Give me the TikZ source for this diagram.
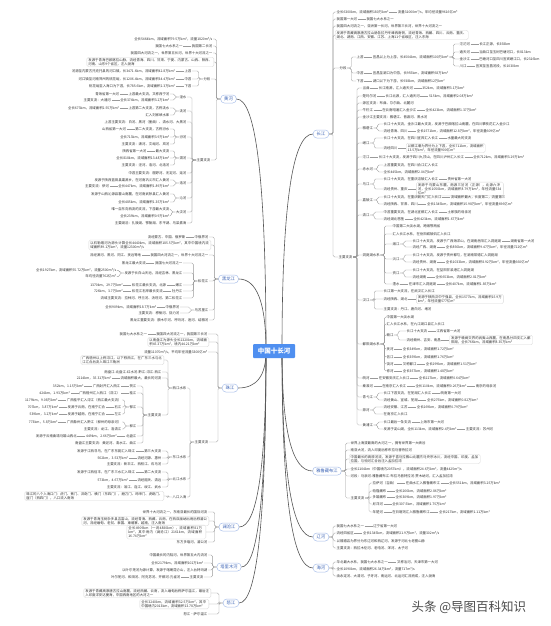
\documentclass[tikz,border=0pt]{standalone}
\usepackage{fontspec}
\setmainfont{Noto Sans CJK SC}
\XeTeXlinebreaklocale "zh"
\XeTeXlinebreakskip = 0pt plus 1pt
\usetikzlibrary{positioning,calc}
\definecolor{txt}{HTML}{333333}
\definecolor{boxc}{HTML}{DADADA}
\definecolor{rvb}{HTML}{A9BFEA}
\definecolor{rvt}{HTML}{3A62B5}
\definecolor{ctf}{HTML}{4F8FF0}
\definecolor{lnc}{HTML}{9A9A9A}
\definecolor{mcc}{HTML}{555555}
\newcommand\nL[4]{\node[lf,anchor=east] (#1) at (#2,#3) {#4};}
\newcommand\nR[4]{\node[lf,anchor=west] (#1) at (#2,#3) {#4};}
\newcommand\chL[3]{\node[lf,left=8pt of #1] (#2) {#3};\draw[cn] (#1.west) -- (#2.east);}
\newcommand\chR[3]{\node[lf,right=8pt of #1] (#2) {#3};\draw[cn] (#1.east) -- (#2.west);}
\newcommand\jL[2]{\draw[cn] (#1.west) -- ++(-4,0) |- (#2.east);}
\newcommand\jR[2]{\draw[cn] (#1.east) -- ++(4,0) |- (#2.west);}
\begin{document}
\begin{tikzpicture}[x=1pt,y=-1pt,
 lf/.style={font=\fontsize{3.4}{4.3}\selectfont, inner sep=0.5pt, text=txt},
 bx/.style={lf, draw=boxc, line width=0.3pt, rounded corners=1.5pt, align=left, inner xsep=1.5pt, inner ysep=1pt},
 rv/.style={draw=rvb, line width=0.5pt, rounded corners=3.6pt, fill=white, text=rvt, font=\fontsize{4.3}{5}\selectfont, minimum height=8pt, inner xsep=3.5pt, inner ysep=0pt},
 ct/.style={fill=ctf, text=white, font=\fontsize{6.5}{7}\selectfont\bfseries, minimum width=42pt, minimum height=14pt, rounded corners=1pt},
 cn/.style={draw=lnc, line width=0.35pt, rounded corners=1.5pt},
 mc/.style={draw=mcc, line width=0.6pt}]
\useasboundingbox (0,0) rectangle (550,626);
\fill[white] (0,0) rectangle (550,626);

% ===== 黄河 =====
\node[rv] (hh) at (228.5,99) {黄河};
\nL{h1}{213}{39}{全长5464km，流域面积79.5万km²，流量1820m³/s}
\nL{h2}{213}{46}{我国第二长河} \chL{h2}{h2a}{我国七大水系之一}
\nL{h3}{213}{53}{我国四大河流之一，世界第五长河，世界十大河流之一}
\node[bx,anchor=east,text width=124pt] (h4) at (214,62) {发源于青海巴颜喀拉山脉，流经青海、四川、甘肃、宁夏、内蒙古、山西、陕西、河南、山东9个省区，注入渤海};
\nL{hfd}{211}{79}{分段}
\nL{hs}{192}{71}{上游} \chL{hs}{hsa}{河源至内蒙古托克托县的河口镇，长3471.6km，流域面积42.8万km²}
\nL{hz}{192}{79}{中游} \chL{hz}{hza}{河口镇至河南郑州的桃花峪，长1206.4km，流域面积34.4万km²}
\nL{hx}{192}{86}{下游} \chL{hx}{hxa}{桃花峪至入海口为下游，长785.6km，流域面积2.3万km²}
\nL{hzl}{211}{160}{主要支流}
\nL{hw}{187}{97}{湟水}
 \nL{hw1}{170}{94}{上游最大支流，又称西宁河} \chL{hw1}{hw1a}{青海省第一大河}
 \nL{hw2}{170}{100}{全长374km，流域面积3.2万km²} \chL{hw2}{hw2a}{主要支流：大通河}
\nL{ht}{187}{111}{洮河}
 \nL{ht1}{170}{108}{上游第二大支流，古称洮水} \chL{ht1}{ht1a}{全长673km，流域面积2.55万km²}
 \nL{ht2}{170}{115}{汇入刘家峡水库}
\nL{hq}{187}{122}{上游主要支流：白河、黑河（墨曲）、清水河、大黑河}
\nL{hf}{187}{137}{汾河}
 \nL{hf1}{170}{129}{第二大支流，古称汾水} \chL{hf1}{hf1a}{山西省第一大河}
 \nL{hf2}{170}{137}{全长713km，流域面积3.9万km²}
 \nL{hf3}{170}{144}{主要支流：潇河、文峪河、岚河}
\nL{hwe}{187}{158}{渭河}
 \nL{hwe1}{170}{151}{最大支流} \chL{hwe1}{hwe1a}{陕西省第一大河}
 \nL{hwe2}{170}{158}{全长818km，流域面积13.48万km²}
 \nL{hwe3}{170}{165}{主要支流：泾河、洛河、北洛河}
\nL{hzy}{187}{173}{中游主要支流：窟野河、无定河、延河}
\nL{hl}{187}{183}{洛河}
 \nL{hl1}{170}{180}{发源于陕西蓝田县灞源乡，在河南巩义市汇入黄河}
 \nL{hl2}{170}{186}{全长447km，流域面积1.89万km²} \chL{hl2}{hl2a}{主要支流：伊河}
\nL{hqin}{187}{198}{沁河}
 \nL{hqin1}{170}{194}{发源于山西沁源县霍山南麓，在河南武陟县汇入黄河}
 \nL{hqin2}{170}{202}{全长485km，流域面积1.35万km²}
\nL{hdw}{187}{212}{大汶河}
 \nL{hdw1}{170}{209}{唯一自东向西流的支流，下游最大支流}
 \nL{hdw2}{170}{216}{全长239km，流域面积0.9万km²}
\nL{hhu}{187}{223}{主要湖泊：扎陵湖、鄂陵湖、东平湖、乌梁素海}
\foreach \c in {h1,h2,h3,h4,hfd,hzl} {\jL{hh}{\c}}
\foreach \c in {hs,hz,hx} {\jL{hfd}{\c}}
\foreach \c in {hw,ht,hq,hf,hwe,hzy,hl,hqin,hdw,hhu} {\jL{hzl}{\c}}
\jL{hw}{hw1}\jL{hw}{hw2}\jL{ht}{ht1}\jL{ht}{ht2}
\jL{hf}{hf1}\jL{hf}{hf2}\jL{hf}{hf3}
\jL{hwe}{hwe1}\jL{hwe}{hwe2}\jL{hwe}{hwe3}
\jL{hl}{hl1}\jL{hl}{hl2}\jL{hqin}{hqin1}\jL{hqin}{hqin2}\jL{hdw}{hdw1}\jL{hdw}{hdw2}

% ===== 黑龙江 =====
\node[rv] (kk) at (228.5,279) {黑龙江};
\nL{k1}{209}{237}{中俄界河} \chL{k1}{k1a}{流经蒙古、中国、俄罗斯}
\node[bx,anchor=east,text width=119pt] (k2) at (211,245) {以石勒喀河为源头计算全长4440km，流域面积185.5万km²，其中中国境内流域面积89.1万km²，流量12300m³/s};
\nL{k3}{209}{255}{我国四大河流之一，世界十大河流之一} \chL{k3}{k3a}{流经漠河、黑河、同江、抚远等地}
\nL{ks}{209}{281}{松花江}
 \nL{ks1}{183}{263}{我国七大河流之一} \chL{ks1}{ks1a}{黑龙江最大支流}
 \nL{ks2}{183}{273}{发源于长白山天池，流经吉林、黑龙江}
 \node[lf,anchor=east] (ks2a) at ($(ks2.west)+(-7,-2.6)$) {全长1927km，流域面积55.72万km²，流量2500m³/s};
 \node[lf,anchor=east] (ks2b) at ($(ks2.west)+(-7,3.6)$) {年均径流量762亿m³};
 \jL{ks2}{ks2a}\jL{ks2}{ks2b}
 \nL{ks3}{183}{285}{嫩江} \chL{ks3}{ks3a}{松花江最长支流，北源} \chL{ks3a}{ks3b}{1370km，29.7万km²}
 \nL{ks4}{183}{291}{牡丹江} \chL{ks4}{ks4a}{松花江右岸最长支流} \chL{ks4a}{ks4b}{726km，3.7万km²}
 \nL{ks5}{183}{298}{流域主要支流：拉林河、呼兰河、汤旺河、第二松花江}
\nL{kw}{209}{310}{乌苏里江}
 \nL{kw1}{180}{307}{中俄界河} \chL{kw1}{kw1a}{全长909km，流域面积18.7万km²}
 \nL{kw2}{180}{313}{主要支流：穆棱河、挠力河}
\nL{k5}{209}{320}{黑龙江重要支流：额木尔河、呼玛河、逊河、结雅河}
\foreach \c in {k1,k2,k3,ks,kw,k5} {\jL{kk}{\c}}
\foreach \c in {ks1,ks2,ks3,ks4,ks5} {\jL{ks}{\c}}
\jL{kw}{kw1}\jL{kw}{kw2}

% ===== 珠江 =====
\node[rv] (zz) at (230,388) {珠江};
\nL{z1}{208}{334}{我国四大河流之一，我国第三长河} \chL{z1}{z1a}{我国七大水系之一}
\node[bx,anchor=east,text width=58pt] (z2) at (209,342) {以南盘江为源头全长2320km，流域面积45.37万km²，境内44.21万km²};
\nL{z3}{208}{352}{流量11070m³/s，平均年径流量3300亿m³}
\nL{zzl}{209}{442}{主要支流}
\nL{zx}{187}{388}{西江水系}
 \node[bx,anchor=east,text width=80pt] (zx1) at (164,360) {广西梧州以上称浔江，以下称西江，在广东三水与北江汇合后流入珠江三角洲};
 \nL{zx2}{162}{372}{南盘江-北盘江-红水河-黔江-浔江-西江}
 \nL{zx3}{162}{378}{流域面积最大，最长的河流} \chL{zx3}{zx3a}{2214km，35.31万km²}
 \nL{zxz}{162}{415}{主要支流}
 \nL{g1}{137}{386}{贺江} \chL{g1}{g1a}{广西封开汇入西江} \chL{g1a}{g1b}{352km，1.15万km²}
 \nL{g2}{137}{393}{桂江} \chL{g2}{g2a}{广西梧州汇入西江（浔江）} \chL{g2a}{g2b}{424km，1.93万km²}
 \nL{g3}{137}{407}{郁江}
 \nL{g31}{122}{400}{广西桂平汇入浔江（西江最大支流）} \chL{g31}{g31a}{1179km，9.08万km²}
 \nL{g32}{122}{407}{右江} \chL{g32}{g32a}{发源于云南，在南宁汇合} \chL{g32a}{g32b}{707km，3.87万km²}
 \nL{g33}{122}{414}{左江} \chL{g33}{g33a}{发源于越南，在南宁汇合} \chL{g33a}{g33b}{539km，3.2万km²}
 \nL{g4}{137}{426}{柳江}
 \nL{g41}{122}{422}{广西象州汇入黔江（柳州的母亲河）} \chL{g41}{g41a}{773km，5.8万km²}
 \nL{g42}{122}{429}{主要支流：龙江、洛清江}
 \nL{g5}{137}{436}{北盘江} \chL{g5}{g5a}{449km，2.66万km²} \chL{g5a}{g5b}{发源于云南曲靖马雄山西北}
 \nL{g6}{137}{443}{南盘江主要支流：黄泥河、清水江、曲江}
\nL{zd}{187}{457}{东江水系}
 \nL{zd1}{162}{451}{第三大支流} \chL{zd1}{zd1a}{发源于江西寻乌，在广东东莞汇入珠江}
 \nL{zd2}{162}{458}{流经河源、惠州} \chL{zd2}{zd2a}{562km，3.53万km²}
 \nL{zd3}{162}{464}{主要支流：新丰江、西枝江、石马河}
\nL{zb}{187}{479}{北江水系}
 \nL{zb1}{162}{472}{第二大支流} \chL{zb1}{zb1a}{发源于江西信丰，在广东三水汇入珠江}
 \nL{zb2}{162}{480}{流经韶关、清远} \chL{zb2}{zb2a}{573km，4.67万km²}
 \nL{zb3}{162}{487}{主要支流：滃江、连江、绥江、武水}
\nL{zba}{187}{497}{八口入海}
 \node[bx,anchor=east,text width=136pt] (zba1) at (164,496) {珠江的八个入海口门：虎门、蕉门、洪奇门、横门（东四门），磨刀门、鸡啼门、虎跳门、崖门（西四门），八口流入南海};
\foreach \c in {z1,z2,z3,zzl} {\jL{zz}{\c}}
\foreach \c in {zx,zd,zb,zba} {\jL{zzl}{\c}}
\foreach \c in {zx1,zx2,zx3,zxz} {\jL{zx}{\c}}
\foreach \c in {g1,g2,g3,g4,g5,g6} {\jL{zxz}{\c}}
\foreach \c in {g31,g32,g33} {\jL{g3}{\c}}
\jL{g4}{g41}\jL{g4}{g42}
\foreach \c in {zd1,zd2,zd3} {\jL{zd}{\c}}
\foreach \c in {zb1,zb2,zb3} {\jL{zb}{\c}}
\jL{zba}{zba1}

% ===== 澜沧江 =====
\node[rv] (ll) at (229,527) {澜沧江};
\nL{l1}{208}{512}{世界十大河流之一，东南亚最长的国际河流}
\node[bx,anchor=east,text width=124pt] (l2) at (209,521) {发源于青海玉树杂多县吉富山，流经青海、西藏、云南，在西双版纳出境后称湄公河，流经缅甸、老挝、泰国、柬埔寨、越南，注入南海};
\node[bx,anchor=east,text width=76pt] (l3) at (206,532) {全长4909km（一说4880km），流域面积81万km²，其中境内（澜沧江）2161km，流域面积16.74万km²};
\nL{l4}{208}{542}{东方多瑙河，湄公河}
\foreach \c in {l1,l2,l3,l4} {\jL{ll}{\c}}

% ===== 塔里木河 =====
\node[rv] (tt) at (229,567) {塔里木河};
\nL{t1}{208}{555}{中国最长的内陆河，世界第五大内流河}
\nL{t2}{204}{563}{全长2179km，流域面积102万km²}
\nL{t3}{208}{570}{以叶尔羌河为源计算，发源于喀喇昆仑山，注入台特玛湖}
\nL{t4}{204}{577}{主要支流} \chL{t4}{t4a}{叶尔羌河、和田河、阿克苏河、开都河-孔雀河}
\foreach \c in {t1,t2,t3,t4} {\jL{tt}{\c}}

% ===== 怒江 =====
\node[rv] (nn) at (231,603) {怒江};
\node[bx,anchor=east,text width=124pt] (n1) at (211,593) {发源于青藏高原唐古拉山南麓，流经西藏、云南，流入缅甸后称萨尔温江，最后注入印度洋安达曼海，中国西南地区的大河之一};
\node[bx,anchor=east,text width=66pt] (n2) at (209,604) {全长3240km，流域面积32.5万km²，其中中国境内2013km，流域面积13.78万km²};
\nL{n3}{208}{614}{怒江·萨尔温江}
\foreach \c in {n1,n2,n3} {\jL{nn}{\c}}

% ===== 长江 =====
\node[rv] (cj) at (321,134) {长江};
\nR{c1}{336}{12}{全长6300km，流域面积180万km²} \chR{c1}{c1a}{流量31060m³/s，年均径流量9616亿m³}
\nR{c2}{336}{19}{我国第一大河} \chR{c2}{c2a}{我国七大水系之一}
\nR{c3}{336}{26}{我国四大河流之一，亚洲第一长河，世界第三长河，世界十大河流之一}
\node[bx,anchor=west,text width=130pt] (c4) at (335,35) {发源于青藏高原唐古拉山脉各拉丹冬峰西南侧，流经青海、西藏、四川、云南、重庆、湖北、湖南、江西、安徽、江苏、上海11个省级区，注入东海};
\nR{cfd}{339}{68}{分段}
 \nR{cs}{356}{57}{上游} \chR{cs}{csa}{宜昌以上为上游，长4504km，流域面积100万km²}
 \nR{cs1}{459}{44}{沱沱河} \chR{cs1}{cs1a}{长江正源，长358km}
 \nR{cs2}{459}{52}{通天河} \chR{cs2}{cs2a}{当曲口至玉树巴塘河口，长813km}
 \nR{cs3}{459}{59}{金沙江} \chR{cs3}{cs3a}{巴塘河口至四川宜宾岷江口，长2316km}
 \nR{cs4}{459}{66}{川江} \chR{cs4}{cs4a}{宜宾至宜昌河段，长1030km}
 \nR{cz}{356}{73}{中游} \chR{cz}{cza}{宜昌至湖口为中游，长955km，流域面积68万km²}
 \nR{cx}{356}{81}{下游} \chR{cx}{cxa}{湖口以下为下游，长938km，流域面积12万km²}
\nR{czl}{338}{257}{主要支流}
 \nR{d1}{362}{88}{当曲} \chR{d1}{d1a}{长江南源，汇入通天河} \chR{d1a}{d1b}{352km，流域面积3.1万km²}
 \nR{d2}{362}{96}{楚玛尔河} \chR{d2}{d2a}{长江北源，汇入通天河} \chR{d2a}{d2b}{515km，流域面积2.08万km²}
 \nR{d3}{362}{103}{源区支流：布曲、尕尔曲、北麓河}
 \nR{d4}{362}{110}{牛栏江} \chR{d4}{d4a}{在云南昭通汇入金沙江} \chR{d4a}{d4b}{全长423km，流域面积1.37万km²}
 \nR{d5}{362}{117}{金沙江主要支流：雅砻江、普渡河、黑水河}
 \nR{d6}{362}{128}{雅砻江}
  \nR{d61}{383}{124}{长江十大支流，金沙江最大支流，发源于巴颜喀拉山南麓，在四川攀枝花汇入金沙江}
  \nR{d62}{383}{131}{流经青海、四川} \chR{d62}{d62a}{全长1571km，流域面积12.8万km²，年径流量609亿m³}
 \nR{d7}{362}{143}{岷江}
  \nR{d71}{383}{138}{长江十大支流，在四川宜宾汇入长江} \chR{d71}{d71a}{水量最大的支流}
  \nR{d72}{383}{148}{流经四川}
  \node[bx,right=8pt of d72,text width=76pt] (d72a) {以都江堰为界分为上下游，全长711km，流域面积13.5万km²，年径流量900亿m³}; \draw[cn] (d72.east) -- (d72a.west);
 \nR{d8}{362}{157}{沱江} \chR{d8}{d8a}{长江十大支流，发源于四川九顶山，在四川泸州汇入长江} \chR{d8a}{d8b}{全长712km，流域面积3.29万km²}
 \nR{d9}{362}{169}{赤水河}
  \nR{d91}{383}{165}{上游重要支流，在四川合江汇入长江}
  \nR{d92}{383}{172}{全长445km，流域面积2.04万km²}
 \nR{d10}{362}{184}{乌江}
  \nR{d101}{383}{179}{长江十大支流，在重庆涪陵汇入长江} \chR{d101}{d101a}{贵州省第一大河}
  \nR{d102}{383}{189}{流经贵州、重庆}
  \node[bx,right=8pt of d102,text width=84pt] (d102a) {发源于乌蒙山东麓，南源三岔河（正源），北源六冲河，全长1050km，流域面积8.79万km²，年径流量534亿m³}; \draw[cn] (d102.east) -- (d102a.west);
 \nR{d11}{362}{200}{嘉陵江}
  \nR{d111}{383}{197}{长江十大支流，在重庆朝天门汇入长江} \chR{d111}{d111a}{流域面积最大，长度第二，流量第三}
  \nR{d112}{383}{204}{流经陕西、甘肃、四川} \chR{d112}{d112a}{全长1345km，流域面积15.98万km²，年径流量696亿m³}
 \nR{d12}{362}{215}{清江}
  \nR{d121}{383}{212}{中游重要支流，在湖北宜都汇入长江} \chR{d121}{d121a}{土家族的母亲河}
  \nR{d122}{383}{219}{流经湖北恩施} \chR{d122}{d122a}{全长423km，流域面积1.67万km²}
 \nR{d13}{362}{255}{洞庭湖水系}
  \nR{e1}{392}{226}{中国第二大淡水湖，跨湘鄂两省}
  \nR{e2}{392}{234}{汇入长江水系，在岳阳城陵矶汇入长江}
  \nR{e3}{392}{244}{湘江}
   \nR{e31}{412}{241}{长江十大支流，发源于广西海洋山，在湖南岳阳汇入洞庭湖} \chR{e31}{e31a}{湖南省第一大河}
   \nR{e32}{412}{247}{流经广西、湖南} \chR{e32}{e32a}{全长856km，流域面积9.47万km²，年径流量722亿m³}
  \nR{e4}{392}{259}{沅江}
   \nR{e41}{412}{255}{长江十大支流，发源于贵州都匀，在湖南常德汇入洞庭湖}
   \nR{e42}{412}{262}{流经贵州、湖南} \chR{e42}{e42a}{全长1033km，流域面积8.92万km²，年径流量660亿m³}
  \nR{e5}{392}{273}{资江}
   \nR{e51}{412}{270}{长江十大支流，在益阳甘溪港汇入洞庭湖}
   \nR{e52}{412}{277}{流经湖南} \chR{e52}{e52a}{全长653km，流域面积2.81万km²}
  \nR{e6}{392}{284}{澧水} \chR{e6}{e6a}{在津市汇入洞庭湖} \chR{e6a}{e6b}{全长407km，流域面积1.85万km²}
 \nR{d14}{362}{300}{汉江}
  \nR{d141}{383}{291}{长江第一大支流，在武汉汇入长江}
  \nR{d142}{383}{299}{流经陕西、湖北}
  \node[bx,right=8pt of d142,text width=84pt] (d142a) {发源于陕西汉中宁强县，全长1577km，流域面积15.9万km²，年径流量577亿m³}; \draw[cn] (d142.east) -- (d142a.west);
  \nR{d143}{383}{309}{主要支流：丹江、唐白河、堵河}
 \nR{d15}{362}{344}{鄱阳湖水系}
  \nR{f1}{386}{317}{中国第一大淡水湖}
  \nR{f2}{386}{324}{汇入长江水系，在九江湖口县汇入长江}
  \nR{f3}{386}{335}{赣江}
   \nR{f31}{406}{331}{长江十大支流} \chR{f31}{f31a}{江西省第一大河}
   \nR{f32}{406}{340}{流经赣州、吉安、南昌}
   \node[bx,right=8pt of f32,text width=80pt] (f32a) {发源于赣闽交界的武夷山西麓，在南昌分四支汇入鄱阳湖，全长766km，流域面积8.35万km²}; \draw[cn] (f32.east) -- (f32a.west);
  \nR{f4}{386}{349}{抚河} \chR{f4}{f4a}{全长349km，流域面积1.72万km²}
  \nR{f5}{386}{357}{信江} \chR{f5}{f5a}{全长359km，流域面积1.76万km²}
  \nR{f6}{386}{364}{饶河} \chR{f6}{f6a}{又称鄱江} \chR{f6a}{f6b}{全长299km，流域面积1.51万km²}
  \nR{f7}{386}{371}{修河} \chR{f7}{f7a}{全长357km，流域面积1.48万km²}
 \nR{d16}{362}{378}{皖河} \chR{d16}{d16a}{在安徽安庆汇入长江} \chR{d16a}{d16b}{全长227km，流域面积0.64万km²}
 \nR{d17}{362}{386}{秦淮河} \chR{d17}{d17a}{在南京汇入长江} \chR{d17a}{d17b}{全长110km，流域面积0.26万km²} \chR{d17b}{d17c}{南京的母亲河}
 \nR{d18}{362}{397}{青弋江}
  \nR{d181}{383}{393}{长江下游支流，在芜湖汇入长江} \chR{d181}{d181a}{皖南第一大河}
  \nR{d182}{383}{400}{流经黄山、宣城、芜湖} \chR{d182}{d182a}{全长275km，流域面积0.82万km²}
 \nR{d19}{362}{410}{滁河}
  \nR{d191}{383}{407}{流经安徽、江苏} \chR{d191}{d191a}{全长269km，流域面积0.79万km²}
  \nR{d192}{383}{414}{在南京汇入长江}
 \nR{d20}{362}{425}{黄浦江}
  \nR{d201}{383}{422}{长江最后一条支流} \chR{d201}{d201a}{上海市第一大河}
  \nR{d202}{383}{429}{发源于淀山湖，全长113km，流域面积2.4万km²} \chR{d202}{d202a}{主要支流：苏州河}
\foreach \c in {c1,c2,c3,c4,cfd,czl} {\jR{cj}{\c}}
\foreach \c in {cs,cz,cx} {\jR{cfd}{\c}}
\foreach \c in {cs1,cs2,cs3,cs4} {\jR{csa}{\c}}
\foreach \c in {d1,d2,d3,d4,d5,d6,d7,d8,d9,d10,d11,d12,d13,d14,d15,d16,d17,d18,d19,d20} {\jR{czl}{\c}}
\jR{d6}{d61}\jR{d6}{d62}\jR{d7}{d71}\jR{d7}{d72}\jR{d9}{d91}\jR{d9}{d92}
\jR{d10}{d101}\jR{d10}{d102}\jR{d11}{d111}\jR{d11}{d112}\jR{d12}{d121}\jR{d12}{d122}
\foreach \c in {e1,e2,e3,e4,e5,e6} {\jR{d13}{\c}}
\jR{e3}{e31}\jR{e3}{e32}\jR{e4}{e41}\jR{e4}{e42}\jR{e5}{e51}\jR{e5}{e52}
\jR{d14}{d141}\jR{d14}{d142}\jR{d14}{d143}
\foreach \c in {f1,f2,f3,f4,f5,f6,f7} {\jR{d15}{\c}}
\jR{f3}{f31}\jR{f3}{f32}
\jR{d18}{d181}\jR{d18}{d182}\jR{d19}{d191}\jR{d19}{d192}\jR{d20}{d201}\jR{d20}{d202}

% ===== 雅鲁藏布江 =====
\node[rv] (yy) at (327,471) {雅鲁藏布江};
\nR{y1}{350}{443}{世界上海拔最高的大河之一，拥有世界第一大峡谷}
\nR{y2}{350}{450}{南亚大河，流入印度后称布拉马普特拉河}
\node[bx,anchor=west,text width=128pt] (y3) at (349,459) {中国最长的高原河流，发源于喜马拉雅山北麓杰马央宗冰川，流经中国、印度、孟加拉国，与恒河汇合后注入孟加拉湾};
\nR{y4}{350}{469}{全长2104km（中国境内2057km），流域面积24.6万km²，流量4425m³/s}
\nR{y5}{350}{476}{河段：马泉河-雅鲁藏布江-布拉马普特拉河-贾木纳河，汇入孟加拉湾}
\nR{yz}{350}{498}{主要支流}
 \nR{y6}{372}{483}{拉萨河（吉曲）} \chR{y6}{y6a}{在曲水汇入雅鲁藏布江} \chR{y6a}{y6b}{全长551km，流域面积3.25万km²}
 \nR{y7}{372}{491}{帕隆藏布} \chR{y7}{y7a}{全长266km，流域面积2.86万km²}
 \nR{y8}{372}{497}{多雄藏布} \chR{y8}{y8a}{全长309km，流域面积1.97万km²}
 \nR{y9}{372}{504}{尼洋河} \chR{y9}{y9a}{全长307.5km，流域面积1.75万km²}
 \nR{y10}{372}{512}{年楚河} \chR{y10}{y10a}{在日喀则汇入雅鲁藏布江} \chR{y10a}{y10b}{全长217km，流域面积1.11万km²}
\foreach \c in {y1,y2,y3,y4,y5,yz} {\jR{yy}{\c}}
\foreach \c in {y6,y7,y8,y9,y10} {\jR{yz}{\c}}

% ===== 辽河 =====
\node[rv] (lh) at (321,537) {辽河};
\nR{r1}{336}{526}{我国七大水系之一} \chR{r1}{r1a}{辽宁省第一大河}
\nR{r2}{336}{533}{流经四省区} \chR{r2}{r2a}{全长1345km，流域面积21.9万km²，流量302m³/s}
\nR{r3}{336}{541}{以福德店为界分为东辽河和西辽河，发源于河北七老图山脉}
\nR{r4}{336}{548}{主要支流：西拉木伦河、老哈河、浑河、太子河}
\foreach \c in {r1,r2,r3,r4} {\jR{lh}{\c}}

% ===== 海河 =====
\node[rv] (hhe) at (321,568) {海河};
\nR{s1}{336}{562}{华北最大水系，我国七大水系之一} \chR{s1}{s1a}{又称沽河，天津市第一大河}
\nR{s2}{336}{569}{全长1090km，流域面积26.34万km²，流量717m³/s}
\nR{s3}{336}{576}{由永定河、大清河、子牙河、南运河、北运河汇流而成，注入渤海}
\foreach \c in {s1,s2,s3} {\jR{hhe}{\c}}

% ===== main curves and centre =====
\coordinate (sL) at (266,351);
\coordinate (sR) at (282,351);
\foreach \r in {hh,kk,zz,ll,tt,nn} {
  \path (sL|-\r.east) coordinate (k\r);
  \draw[mc] (sL) .. controls ($(sL)!.667!(k\r)$) and ($(\r.east)!.667!(k\r)$) .. (\r.east);
}
\foreach \r in {cj,yy,lh,hhe} {
  \path (sR|-\r.west) coordinate (k\r);
  \draw[mc] (sR) .. controls ($(sR)!.667!(k\r)$) and ($(\r.west)!.667!(k\r)$) .. (\r.west);
}
\node[ct] (cc) at (274,351) {中国十长河};

\node[font=\fontsize{12.5}{13}\selectfont, text=black!70, anchor=west] (wm) at (408,607) {头条 @导图百科知识};
\end{tikzpicture}
\end{document}
